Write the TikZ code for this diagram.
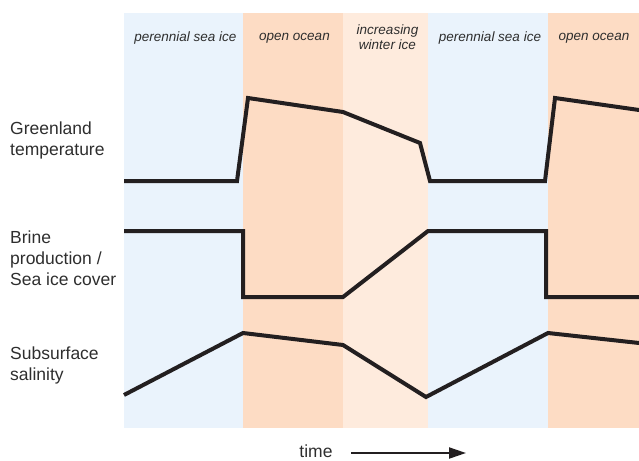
\documentclass[tikz,border=0pt]{standalone}
\usepackage{fontspec}
\setmainfont{Liberation Sans}
\usepackage{tikz}
\usetikzlibrary{arrows.meta}
\definecolor{iceblue}{HTML}{EAF3FC}
\definecolor{oceanorange}{HTML}{FDDCC4}
\definecolor{winterpeach}{HTML}{FEEBDD}
\definecolor{curvegray}{HTML}{231F20}
\definecolor{labelgray}{HTML}{2E2E2E}

\begin{document}
\begin{tikzpicture}[x=1pt,y=-1pt,
  curve/.style={line width=4pt,color=curvegray},
  phase/.style={font=\fontsize{13.5}{15}\selectfont\itshape,text=labelgray,align=center,inner sep=0pt},
  rowlabel/.style={font=\fontsize{17.5}{21}\selectfont,text=labelgray,align=left,anchor=west,inner sep=0pt}]
\clip(0,0) rectangle (639,460);
\fill[iceblue] (124,13) rectangle (243,428);
\fill[oceanorange] (243,13) rectangle (343,428);
\fill[winterpeach] (343,13) rectangle (428,428);
\fill[iceblue] (428,13) rectangle (548,428);
\fill[oceanorange] (548,13) rectangle (639,428);
\node[phase] (ice1) at (185.5,38.5) {perennial sea ice};
\node[phase] (ocean1) at (294.5,38.5) {open ocean};
\node[phase] (winter) at (387.5,37) {increasing\\winter ice};
\node[phase] (ice2) at (490,38.5) {perennial sea ice};
\node[phase] (ocean2) at (594,38.5) {open ocean};
\node[rowlabel] (temp) at (10,140) {Greenland\\temperature};
\node[rowlabel] (brine) at (10,258) {Brine\\production /\\Sea ice cover};
\node[rowlabel] (salt) at (10,365) {Subsurface\\salinity};
\draw[curve] (124,181) -- (237,181) -- (248,98) -- (343,112) -- (420,143)
  -- (430,181) -- (545,181) -- (555,98) -- (639,110);
\draw[curve] (124,231) -- (243,231) -- (243,297) -- (343,297) -- (428,231)
  -- (546,231) -- (546,297) -- (639,297);
\draw[curve] (124,395) -- (243,333) -- (343,345) -- (426,397) -- (548,333)
  -- (639,343);
\node[font=\fontsize{17.5}{21}\selectfont,text=labelgray,inner sep=0pt] (time) at (316,451) {time};
\coordinate (tstart) at (351,453);
\coordinate (tend) at (466,453);
\draw[line width=2pt,color=curvegray,-{Triangle[length=17pt,width=11pt]}] (tstart) -- (tend);
\end{tikzpicture}
\end{document}
